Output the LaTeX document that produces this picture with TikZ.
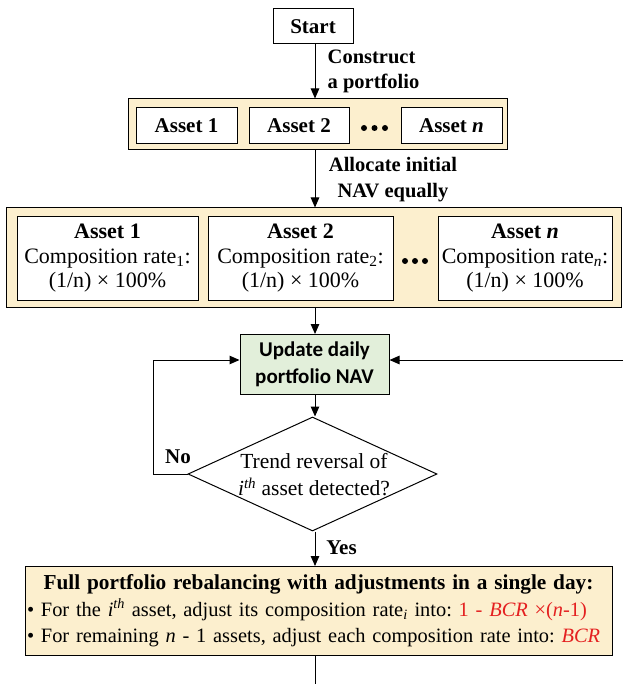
\documentclass[tikz,border=0pt]{standalone}
\usepackage{fontspec}
\setmainfont{Liberation Serif}
\newfontfamily\calib{Carlito}
\usetikzlibrary{shapes.geometric,arrows.meta}
\definecolor{boxtan}{RGB}{252,239,206}
\definecolor{navgreen}{RGB}{226,239,218}
\definecolor{redtxt}{RGB}{228,32,32}
\begin{document}
\frenchspacing
\begin{tikzpicture}[x=1pt,y=-1pt,
  box/.style={draw, line width=1pt, inner sep=0pt, align=center},
  outer/.style={box, fill=boxtan},
  arr/.style={-{Triangle[length=10pt,width=8.5pt]}, line width=1pt},
  ln/.style={line width=1pt},
  big/.style={font=\fontsize{22}{24.5}\selectfont},
  bigb/.style={font=\fontsize{21}{26}\selectfont\bfseries},
  lbl/.style={font=\fontsize{20.5}{25.5}\selectfont\bfseries, inner sep=0pt}]
\useasboundingbox (0,0) rectangle (623,684);
\coordinate (cx) at (315,0);
\coordinate (loopy) at (0,360);
% start
\node[box, bigb, minimum width=80pt, minimum height=35pt] (start) at (313,26.5) {Start};
% first row
\node[outer, minimum width=379pt, minimum height=51pt] (o1) at (317.5,124.5) {};
\node[box, bigb, fill=white, minimum width=101pt, minimum height=36pt] (a1) at (186.5,126) {Asset 1};
\node[box, bigb, fill=white, minimum width=100pt, minimum height=36pt] (a2) at (299,126) {Asset 2};
\node[box, bigb, fill=white, minimum width=101pt, minimum height=36pt] (an) at (451.5,126) {Asset \textit{n}};
\foreach \x in {364,374.5,385} \fill (\x,128) circle (3pt);
\draw[arr] (start.south -| cx) -- (o1.north -| cx);
\node[lbl, anchor=west, align=left] (l1) at (327.5,71.5) {Construct\\a portfolio};
% second row
\node[outer, minimum width=615pt, minimum height=99pt] (o2) at (313.5,257.5) {};
\node[box, big, fill=white, minimum width=181pt, minimum height=83pt] (b1) at (107.5,258.5)
  {\textbf{Asset 1}\\Composition rate\textsubscript{1}:\\(1/n) × 100\%};
\node[box, big, fill=white, minimum width=185pt, minimum height=83pt] (b2) at (300.5,258.5)
  {\textbf{Asset 2}\\Composition rate\textsubscript{2}:\\(1/n) × 100\%};
\node[box, big, fill=white, minimum width=174pt, minimum height=83pt] (bn) at (525,258.5)
  {\textbf{Asset \textit{n}}\\Composition rate\textsubscript{\textit{n}}:\\(1/n) × 100\%};
\foreach \x in {405,415,425} \fill (\x,261) circle (3pt);
\draw[arr] (o1.south -| cx) -- (o2.north -| cx);
\node[lbl, align=center] (l2) at (393,179.5) {Allocate initial\\NAV equally};
% NAV
\node[box, fill=navgreen, minimum width=149pt, minimum height=60pt,
  font=\fontsize{21}{27}\selectfont\calib\bfseries] (nav) at (314.5,364.5) {Update daily\\portfolio NAV};
\draw[arr] (o2.south -| cx) -- (nav.north -| cx);
% decision
\node[draw, line width=1pt, shape=diamond, inner sep=0pt,
  minimum width=249pt, minimum height=114pt] (dec) at (312.5,474) {};
\node[align=center, inner sep=0pt, font=\fontsize{21.5}{27}\selectfont] (dectext) at (314,475)
  {Trend reversal of\\\textit{i}\textsuperscript{\textit{th}} asset detected?};
\draw[arr] (nav.south -| cx) -- (dec.north -| cx);
\coordinate (nocorner) at (153,474);
\draw[arr] (dec.west) -- (nocorner) |- (nav.west |- loopy);
\node[lbl, font=\fontsize{21}{25}\selectfont\bfseries] (no) at (178,457) {No};
\coordinate (rin) at (623,360);
\draw[arr] (rin) -- (nav.east |- loopy);
% rebalancing
\node[box, fill=boxtan, minimum width=587pt, minimum height=89pt, text width=583pt, align=left,
  font=\fontsize{20.4}{26.5}\selectfont\frenchspacing] (reb) at (318.5,611)
  {\hfill{\fontsize{21.3}{26.5}\selectfont\textbf{Full portfolio rebalancing with adjustments in a single day:}}\hfill\null\\
   \textbullet{} For the \textit{i}\textsuperscript{\textit{th}} asset, adjust its composition rate\textsubscript{\textit{i}} into: {\color{redtxt}1 - \textit{BCR} ×(\textit{n}-1)}\\
   \textbullet{} For remaining \textit{n} - 1 assets, adjust each composition rate into: {\color{redtxt}\textit{BCR}}};
\draw[arr] (dec.south -| cx) -- (reb.north -| cx);
\node[lbl, font=\fontsize{21}{25}\selectfont\bfseries] (yes) at (341.5,548) {Yes};
\coordinate (bot) at (315,684);
\draw[ln] (reb.south -| cx) -- (bot);
\end{tikzpicture}
\end{document}
